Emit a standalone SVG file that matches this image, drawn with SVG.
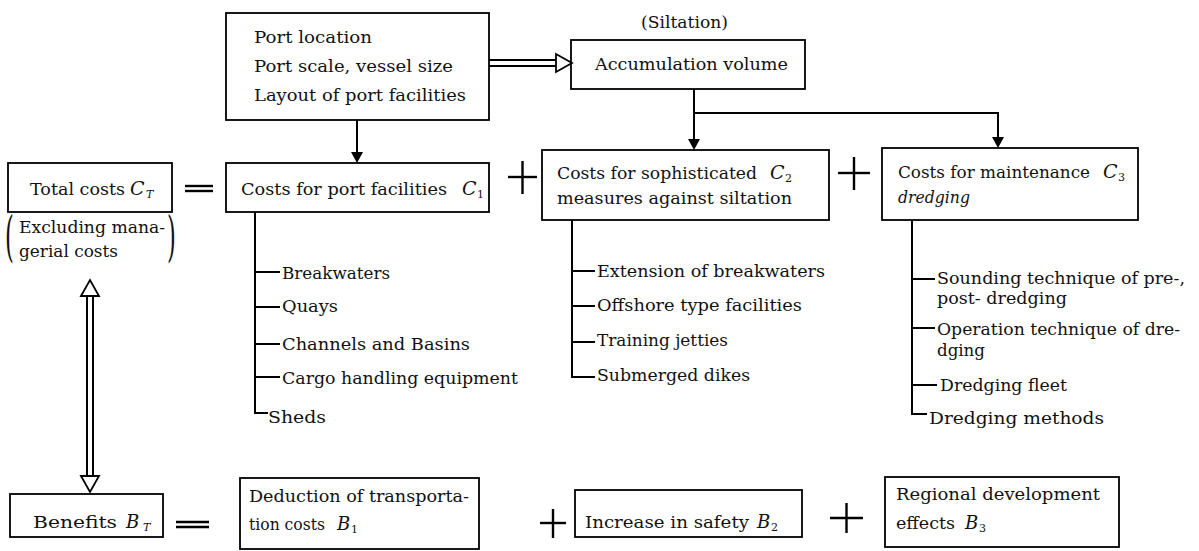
<svg xmlns="http://www.w3.org/2000/svg" width="1199" height="551" viewBox="0 0 1199 551">
<style>
.box{fill:none;stroke:#000;stroke-width:1.8}
.ln{fill:none;stroke:#000;stroke-width:2}
.t{font-family:"DejaVu Serif","Liberation Serif",serif;font-size:17.5px;fill:#111}
.s{font-family:"DejaVu Serif","Liberation Serif",serif;font-size:16.5px;fill:#111}
.i{font-family:"DejaVu Serif","Liberation Serif",serif;font-style:italic;fill:#111}
.sub{font-family:"DejaVu Serif","Liberation Serif",serif;font-size:11px;fill:#111}
.par{font-family:"DejaVu Serif","Liberation Serif",serif;font-size:54px;fill:#111}
.op{fill:none;stroke:#000;stroke-width:2.4}
.hollow{fill:#fff;stroke:#000;stroke-width:1.8}
</style>
<rect width="1199" height="551" fill="#fff"/>

<g id="connectors">
  <line class="ln" x1="357" y1="120" x2="357" y2="154"/>
  <path d="M351,152 L363,152 L357,163 z" fill="#000"/>
  <line class="ln" x1="694" y1="89" x2="694" y2="141"/>
  <path d="M688,139 L700,139 L694,150 z" fill="#000"/>
  <polyline class="ln" points="694,113 998,113 998,139"/>
  <path d="M992,137 L1004,137 L998,148 z" fill="#000"/>
  <line class="ln" x1="489" y1="60" x2="557" y2="60" stroke-width="1.6"/>
  <line class="ln" x1="489" y1="66" x2="557" y2="66" stroke-width="1.6"/>
  <path class="hollow" d="M556,54 L572,63 L556,72 z"/>
  <line class="ln" x1="87" y1="294" x2="87" y2="478" stroke-width="1.6"/>
  <line class="ln" x1="93" y1="294" x2="93" y2="478" stroke-width="1.6"/>
  <path class="hollow" d="M81,296 L90,280 L99,296 z"/>
  <path class="hollow" d="M81,476 L90,492 L99,476 z"/>
  <polyline class="ln" points="255,212 255,413 268,413"/>
  <line class="ln" x1="255" y1="272" x2="280" y2="272"/>
  <line class="ln" x1="255" y1="307" x2="280" y2="307"/>
  <line class="ln" x1="255" y1="344" x2="280" y2="344"/>
  <line class="ln" x1="255" y1="377" x2="280" y2="377"/>
  <polyline class="ln" points="572,220 572,377 595,377"/>
  <line class="ln" x1="572" y1="271" x2="595" y2="271"/>
  <line class="ln" x1="572" y1="306" x2="595" y2="306"/>
  <line class="ln" x1="572" y1="342" x2="595" y2="342"/>
  <polyline class="ln" points="912,220 912,414 927,414"/>
  <line class="ln" x1="912" y1="279" x2="935" y2="279"/>
  <line class="ln" x1="912" y1="328" x2="935" y2="328"/>
  <line class="ln" x1="912" y1="385" x2="937" y2="385"/>
</g>

<g id="operators">
  <line class="op" x1="185" y1="186" x2="213" y2="186" stroke-width="2"/>
  <line class="op" x1="185" y1="191" x2="213" y2="191" stroke-width="2"/>
  <line class="op" x1="508" y1="177" x2="537" y2="177"/>
  <line class="op" x1="522.5" y1="161" x2="522.5" y2="194"/>
  <line class="op" x1="838" y1="173" x2="870" y2="173"/>
  <line class="op" x1="854" y1="157" x2="854" y2="190"/>
  <line class="op" x1="176" y1="522" x2="209" y2="522" stroke-width="2"/>
  <line class="op" x1="176" y1="527" x2="209" y2="527" stroke-width="2"/>
  <line class="op" x1="540" y1="523" x2="566" y2="523"/>
  <line class="op" x1="553" y1="509" x2="553" y2="538"/>
  <line class="op" x1="830" y1="518" x2="863" y2="518"/>
  <line class="op" x1="846.5" y1="503" x2="846.5" y2="533"/>
</g>

<g id="port-input">
  <rect class="box" x="226" y="13" width="263" height="107"/>
  <text class="t" x="254" y="43" textLength="118" lengthAdjust="spacingAndGlyphs">Port location</text>
  <text class="t" x="254" y="72" textLength="199" lengthAdjust="spacingAndGlyphs">Port scale, vessel size</text>
  <text class="t" x="254" y="101" textLength="212" lengthAdjust="spacingAndGlyphs">Layout of port facilities</text>
</g>

<g id="accumulation">
  <text class="t" x="641" y="28" textLength="87" lengthAdjust="spacingAndGlyphs">(Siltation)</text>
  <rect class="box" x="571" y="40" width="234" height="49"/>
  <text class="t" x="595" y="70" textLength="193" lengthAdjust="spacingAndGlyphs">Accumulation volume</text>
</g>

<g id="total-costs">
  <rect class="box" x="8" y="163" width="164" height="49"/>
  <text class="t" x="30" y="195" textLength="95" lengthAdjust="spacingAndGlyphs">Total costs</text>
  <text class="i" x="130" y="195" font-size="19">C</text>
  <text class="i" x="146" y="198" font-size="11">T</text>
  <text class="t" x="19" y="233" textLength="146" lengthAdjust="spacingAndGlyphs">Excluding mana-</text>
  <text class="t" x="19" y="257" textLength="99" lengthAdjust="spacingAndGlyphs">gerial costs</text>
  <text class="par" x="0" y="0" transform="translate(5,255) scale(0.42,1)">(</text>
  <text class="par" x="0" y="0" transform="translate(167,255) scale(0.42,1)">)</text>
</g>

<g id="c1">
  <rect class="box" x="226" y="163" width="263" height="49"/>
  <text class="t" x="241" y="195" textLength="206" lengthAdjust="spacingAndGlyphs">Costs for port facilities</text>
  <text class="i" x="462" y="195" font-size="19">C</text>
  <text class="sub" x="477" y="198">1</text>
</g>

<g id="c2">
  <rect class="box" x="542" y="150" width="287" height="70"/>
  <text class="t" x="557" y="179" textLength="200" lengthAdjust="spacingAndGlyphs">Costs for sophisticated</text>
  <text class="i" x="770" y="179" font-size="19">C</text>
  <text class="sub" x="785" y="182">2</text>
  <text class="t" x="557" y="204" textLength="235" lengthAdjust="spacingAndGlyphs">measures against siltation</text>
</g>

<g id="c3">
  <rect class="box" x="882" y="148" width="256" height="72"/>
  <text class="t" x="898" y="178" textLength="192" lengthAdjust="spacingAndGlyphs">Costs for maintenance</text>
  <text class="i" x="1103" y="178" font-size="19">C</text>
  <text class="sub" x="1118" y="181">3</text>
  <text class="t" x="898" y="203" font-style="italic" textLength="72" lengthAdjust="spacingAndGlyphs">dredging</text>
</g>

<g id="c1-items">
  <text class="t" x="282" y="279" textLength="108" lengthAdjust="spacingAndGlyphs">Breakwaters</text>
  <text class="t" x="282" y="312" textLength="56" lengthAdjust="spacingAndGlyphs">Quays</text>
  <text class="t" x="282" y="350" textLength="188" lengthAdjust="spacingAndGlyphs">Channels and Basins</text>
  <text class="t" x="282" y="384" textLength="236" lengthAdjust="spacingAndGlyphs">Cargo handling equipment</text>
  <text class="s" x="268" y="423" textLength="58" lengthAdjust="spacingAndGlyphs">Sheds</text>
</g>

<g id="c2-items">
  <text class="t" x="597" y="277" textLength="228" lengthAdjust="spacingAndGlyphs">Extension of breakwaters</text>
  <text class="t" x="597" y="311" textLength="205" lengthAdjust="spacingAndGlyphs">Offshore type facilities</text>
  <text class="t" x="597" y="346" textLength="131" lengthAdjust="spacingAndGlyphs">Training jetties</text>
  <text class="t" x="597" y="381" textLength="153" lengthAdjust="spacingAndGlyphs">Submerged dikes</text>
</g>

<g id="c3-items">
  <text class="t" x="937" y="284" textLength="248" lengthAdjust="spacingAndGlyphs">Sounding technique of pre-,</text>
  <text class="t" x="937" y="304" textLength="130" lengthAdjust="spacingAndGlyphs">post- dredging</text>
  <text class="t" x="937" y="335" textLength="243" lengthAdjust="spacingAndGlyphs">Operation technique of dre-</text>
  <text class="t" x="937" y="356" textLength="48" lengthAdjust="spacingAndGlyphs">dging</text>
  <text class="t" x="940" y="391" textLength="127" lengthAdjust="spacingAndGlyphs">Dredging fleet</text>
  <text class="t" x="929" y="424" textLength="175" lengthAdjust="spacingAndGlyphs">Dredging methods</text>
</g>

<g id="benefits">
  <rect class="box" x="10" y="494" width="153" height="43"/>
  <text class="s" x="33" y="528" textLength="84" lengthAdjust="spacingAndGlyphs">Benefits</text>
  <text class="i" x="126" y="528" font-size="18">B</text>
  <text class="i" x="143" y="531" font-size="11">T</text>
</g>

<g id="b1">
  <rect class="box" x="240" y="478" width="239" height="71"/>
  <text class="s" x="249" y="502" textLength="220" lengthAdjust="spacingAndGlyphs">Deduction of transporta-</text>
  <text class="s" x="249" y="530" textLength="76" lengthAdjust="spacingAndGlyphs">tion costs</text>
  <text class="i" x="337" y="530" font-size="18">B</text>
  <text class="sub" x="351" y="533">1</text>
</g>

<g id="b2">
  <rect class="box" x="575" y="490" width="227" height="47"/>
  <text class="s" x="585" y="528" textLength="164" lengthAdjust="spacingAndGlyphs">Increase in safety</text>
  <text class="i" x="757" y="528" font-size="18">B</text>
  <text class="sub" x="771" y="531">2</text>
</g>

<g id="b3">
  <rect class="box" x="885" y="477" width="234" height="70"/>
  <text class="s" x="896" y="500" textLength="204" lengthAdjust="spacingAndGlyphs">Regional development</text>
  <text class="s" x="896" y="529" textLength="59" lengthAdjust="spacingAndGlyphs">effects</text>
  <text class="i" x="965" y="529" font-size="18">B</text>
  <text class="sub" x="979" y="532">3</text>
</g>
</svg>
